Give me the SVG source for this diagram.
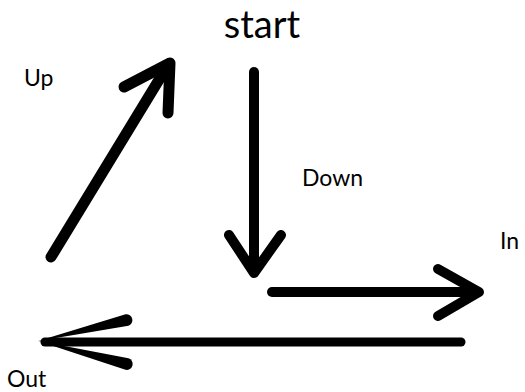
<svg xmlns="http://www.w3.org/2000/svg" width="525" height="392" viewBox="0 0 525 392">
<style>
.lbl{font-family:Lato,"Open Sans","Liberation Sans",sans-serif;fill:#000}
.s{fill:none;stroke:#000;stroke-linecap:round;stroke-linejoin:round}
</style>
<rect width="525" height="392" fill="#fff"/>
<g id="start"><text class="lbl" x="262" y="37.5" font-size="38" text-anchor="middle">start</text></g>
<g id="up"><text class="lbl" x="24" y="86" font-size="23">Up</text></g>
<g id="down"><text class="lbl" x="302" y="186" font-size="23">Down</text></g>
<g id="in"><text class="lbl" x="500" y="249" font-size="23">In</text></g>
<g id="out"><text class="lbl" x="7" y="387" font-size="23">Out</text></g>
<g id="connectors">
<g class="s" stroke-width="11">
<path d="M51,257 L168,65"/>
<path d="M124,87 L170,63 L168,113"/>
</g>
<g class="s" stroke-width="10">
<path d="M254,72 V272"/>
<path d="M229,235 L254,273 L281,235"/>
<path d="M272,292 H476"/>
<path d="M438,269 L479,292 L438,316"/>
</g>
<g>
<path d="M45,342 H461" class="s" stroke-width="9"/>
<path d="M38,341 L125.6,314.2 A6,6 0 0 1 128.4,325.8 Z" fill="#000"/>
<path d="M38,341 L128.5,358.2 A6,6 0 0 1 125.5,369.8 Z" fill="#000"/>
</g>
</g>
</svg>
